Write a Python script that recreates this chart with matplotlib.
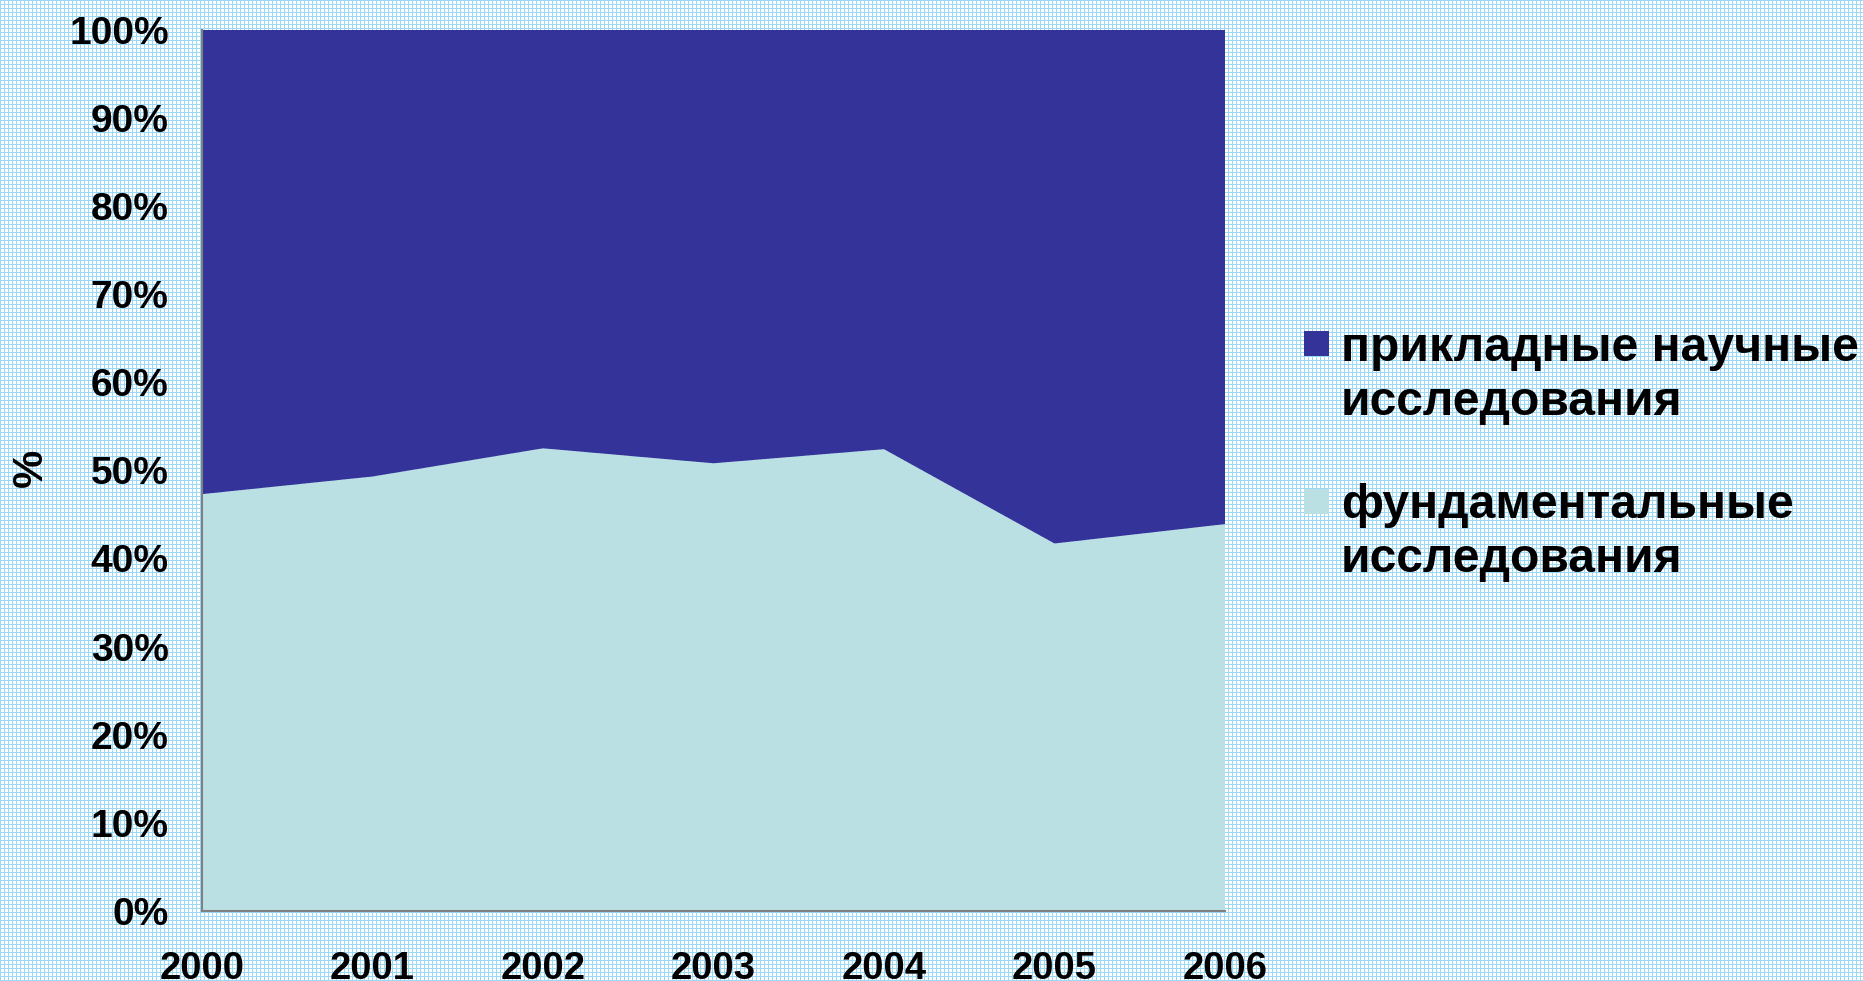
import numpy as np
import matplotlib
matplotlib.use("Agg")
import matplotlib.pyplot as plt
from matplotlib.patches import Rectangle

years = [2000, 2001, 2002, 2003, 2004, 2005, 2006]
fundamental = [47.3, 49.3, 52.5, 50.8, 52.4, 41.7, 43.9]
applied = [100 - v for v in fundamental]
labels_applied = ["прикладные научные", "исследования"]
labels_fund = ["фундаментальные", "исследования"]
ytick_vals = list(range(0, 101, 10))
ytick_labels = [f"{v}%" for v in ytick_vals]

c_dark = "#333399"
c_light = "#bae0e3"

plt.rcParams['font.family'] = ['Liberation Sans', 'DejaVu Sans']
plt.rcParams['font.weight'] = 'bold'

W, H = 1863, 981
fig = plt.figure(figsize=(W / 100, H / 100), dpi=100)
fig.patch.set_facecolor("white")

# patterned background
yy, xx = np.mgrid[0:H, 0:W]
mask = ((xx % 4 == 0) | (yy % 4 == 0)).astype(float)
bg = np.ones((H, W, 3))
blue = np.array([155, 216, 246]) / 255.0
bg = bg * (1 - mask[..., None]) + blue * mask[..., None]
fig.figimage(bg, xo=0, yo=0, zorder=-10)

L, R, T, B = 202, 1225, 29.7, 911
ax = fig.add_axes([L / W, 1 - B / H, (R - L) / W, (B - T) / H])
ax.set_zorder(1)
ax.patch.set_alpha(0)
ax.stackplot(years, fundamental, applied, colors=[c_light, c_dark], linewidth=0)
ax.set_xlim(2000, 2006)
ax.set_ylim(0, 100)
ax.set_xticks(years)
ax.set_xticklabels([str(y) for y in years], fontsize=27.5, fontweight='bold')
ax.set_yticks(ytick_vals)
ax.set_yticklabels(ytick_labels, fontsize=28, fontweight='bold')
ax.tick_params(axis='x', length=0, pad=29)
ax.tick_params(axis='y', length=0, pad=24)
for s in ['top', 'right']:
    ax.spines[s].set_visible(False)
for s in ['left', 'bottom']:
    ax.spines[s].set_color('#808080')
    ax.spines[s].set_linewidth(1.5)
    ax.spines[s].set_zorder(5)

fig.text(31 / W, 1 - 468 / H, "%", rotation=90, ha='center', va='center',
         fontsize=31, fontweight='bold', zorder=2)

# legend
fs_leg = 34.6
entries = [(c_dark, labels_applied, 331, [361, 415]),
           (c_light, labels_fund, 489, [518, 572])]
for col, lines, mtop, baselines in entries:
    fig.patches.append(Rectangle((1304 / W, 1 - (mtop + 25) / H), 25 / W, 25 / H,
                                 transform=fig.transFigure, facecolor=col,
                                 edgecolor='none', zorder=3))
    for line, bl in zip(lines, baselines):
        fig.text(1341 / W, 1 - bl / H, line, ha='left', va='baseline',
                 fontsize=fs_leg, fontweight='bold', zorder=3)

fig.savefig("out.png", dpi=100)
